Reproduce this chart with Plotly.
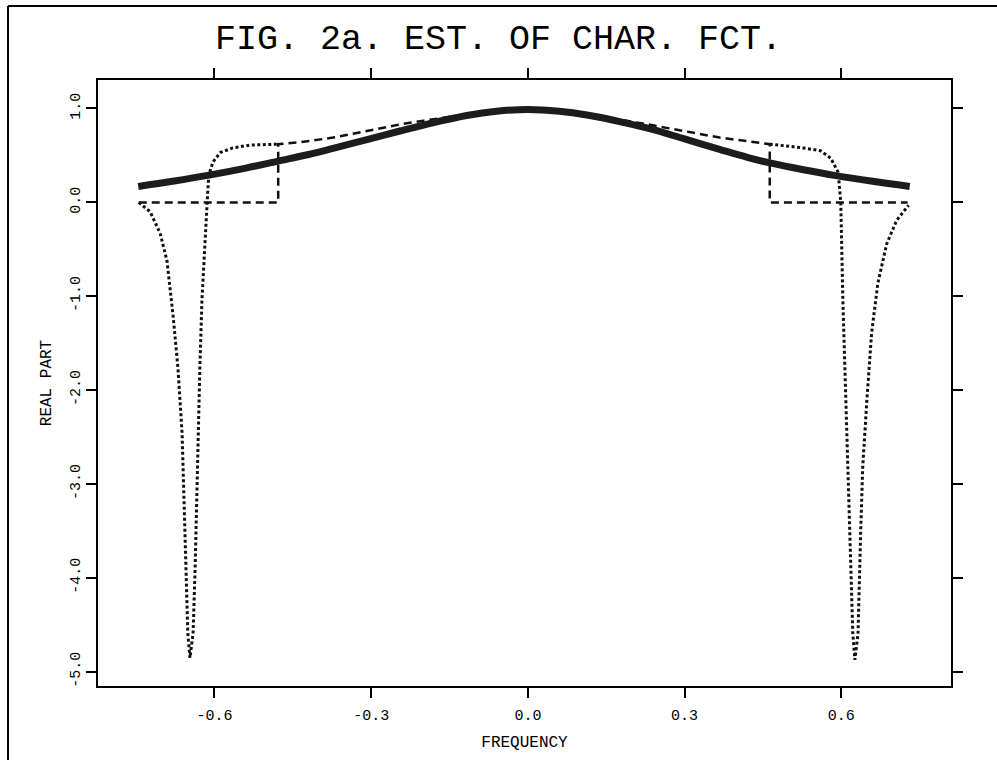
import plotly.graph_objects as go

# ---- data ----
true_x = [-0.746, -0.68, -0.61, -0.54, -0.478, -0.42, -0.373, -0.31, -0.245, -0.18, -0.117, -0.06, 0.0,
          0.06, 0.113, 0.18, 0.24, 0.30, 0.367, 0.42, 0.463, 0.53, 0.59, 0.66, 0.731]
true_y = [0.17, 0.225, 0.29, 0.365, 0.44, 0.51, 0.575, 0.665, 0.76, 0.85, 0.925, 0.97, 0.99,
          0.97, 0.93, 0.855, 0.775, 0.675, 0.565, 0.48, 0.42, 0.345, 0.285, 0.225, 0.17]

trunc_x = [-0.745, -0.478, -0.478, -0.436, -0.373, -0.30, -0.245, -0.20, -0.10, 0.0,
           0.10, 0.22, 0.30, 0.367, 0.463, 0.463, 0.727]
trunc_y = [0.0, 0.0, 0.62, 0.64, 0.69, 0.77, 0.83, 0.87, 0.95, 0.99,
           0.95, 0.84, 0.76, 0.69, 0.62, 0.0, 0.0]

kern_x = [-0.745, -0.723, -0.704, -0.691, -0.679, -0.670, -0.662, -0.658, -0.655, -0.651, -0.647,
          -0.641, -0.637, -0.634, -0.632, -0.628, -0.624, -0.618, -0.614, -0.611, -0.603, -0.589,
          -0.565, -0.532, -0.478,
          None,
          0.463, 0.527, 0.56, 0.58, 0.594, 0.599, 0.603, 0.611, 0.618, 0.622, 0.626, 0.632, 0.637,
          0.641, 0.649, 0.658, 0.670, 0.687, 0.706, 0.729]
kern_y = [0.0, -0.10, -0.33, -0.62, -1.22, -1.76, -2.46, -3.17, -3.88, -4.59, -4.85,
          -4.59, -3.88, -3.17, -2.46, -1.76, -1.04, -0.33, 0.0, 0.29, 0.43, 0.53,
          0.58, 0.61, 0.62,
          None,
          0.62, 0.58, 0.55, 0.47, 0.32, 0.0, -1.04, -2.46, -3.88, -4.59, -4.87, -4.59, -3.52,
          -2.82, -2.10, -1.39, -0.86, -0.44, -0.19, -0.03]

x_tickvals = [-0.6, -0.3, 0.0, 0.3, 0.6]
x_ticktext = ["-0.6", "-0.3", "0.0", "0.3", "0.6"]
y_tickvals = [1.0, 0.0, -1.0, -2.0, -3.0, -4.0, -5.0]
y_ticktext = ["1.0", "0.0", "-1.0", "-2.0", "-3.0", "-4.0", "-5.0"]

title_text = "FIG. 2a. EST. OF CHAR. FCT."
x_title = "FREQUENCY"
y_title = "REAL PART"

FONT = "Liberation Mono, Courier New, monospace"

fig = go.Figure()
fig.add_trace(go.Scatter(x=trunc_x, y=trunc_y, mode="lines",
                         line=dict(color="#111", width=2.5, dash="8px,5px"),
                         showlegend=False, hoverinfo="skip"))
fig.add_trace(go.Scatter(x=kern_x, y=kern_y, mode="lines", connectgaps=False,
                         line=dict(color="#111", width=3, dash="3px,2.5px"),
                         showlegend=False, hoverinfo="skip"))
fig.add_trace(go.Scatter(x=true_x, y=true_y, mode="lines",
                         line=dict(color="#1c1c1c", width=7, shape="spline", smoothing=1.0),
                         showlegend=False, hoverinfo="skip"))

axis_common = dict(showline=True, linecolor="black", linewidth=2, mirror="ticks",
                   ticks="outside", ticklen=10, tickwidth=2, tickcolor="black",
                   showgrid=False, zeroline=False,
                   tickfont=dict(family=FONT, size=15, color="black"))

fig.update_xaxes(range=[-0.823, 0.810], tickvals=x_tickvals, ticktext=x_ticktext,
                 ticklabelstandoff=4,
                 title=dict(text=x_title, font=dict(family=FONT, size=16, color="black"), standoff=12),
                 **axis_common)
fig.update_yaxes(range=[-5.149, 1.303], tickvals=y_tickvals, ticktext=y_ticktext, tickangle=-90,
                 title=dict(text=y_title, font=dict(family=FONT, size=16, color="black"), standoff=12),
                 **axis_common)

# outer frame (left and top edges of the page box)
fig.add_shape(type="line", xref="paper", yref="paper", x0=-0.1055, x1=-0.1055, y0=-0.13, y1=1.122,
              line=dict(color="black", width=2))
fig.add_shape(type="line", xref="paper", yref="paper", x0=-0.1055, x1=1.06, y0=1.122, y1=1.122,
              line=dict(color="black", width=2))

fig.update_layout(
    width=997, height=760,
    margin=dict(l=98, r=46, t=80, b=74),
    paper_bgcolor="white", plot_bgcolor="white",
    title=dict(text=title_text, x=0.5, xanchor="center", y=0.952, yanchor="middle",
               font=dict(family=FONT, size=35, color="black")),
)

fig.write_html("out.html")
